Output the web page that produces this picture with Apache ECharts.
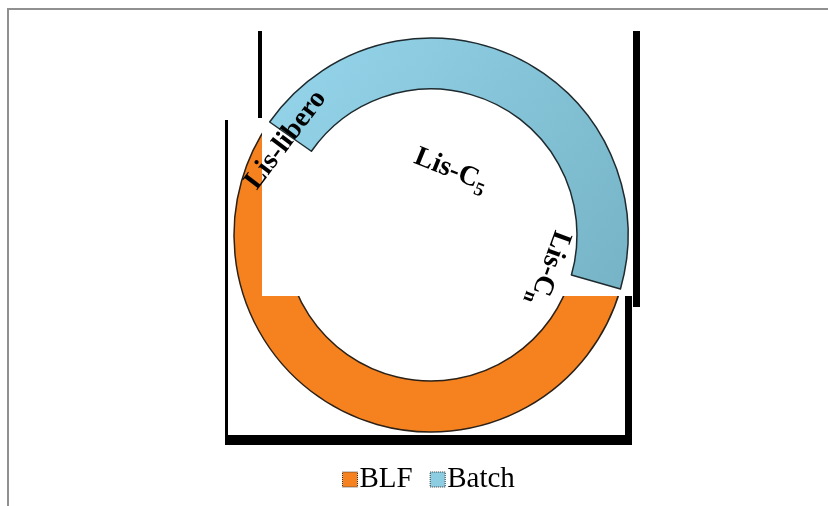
<!DOCTYPE html>
<html>
<head>
<meta charset="utf-8">
<script src="https://cdn.jsdelivr.net/npm/echarts@6/dist/echarts.min.js"></script>
<style>
  html, body { margin: 0; padding: 0; background: #fff; }
  #main { width: 828px; height: 506px; }
</style>
</head>
<body>
<div id="main"></div>
<script>
// categories and values (share of the ring)
var names = ['Batch', 'BLF'];
var values = [44.7, 55.3];
var colors = ['#8CCDE2', '#F5821F'];
var legendNames = ['BLF', 'Batch'];
// ring annotations
var labelTexts = ['{a|Lis-libero}', '{a|Lis-C}{s|5}', '{a|Lis-C}{s|n}'];

var serif = '"Liberation Serif", "Times New Roman", serif';
var myChart = echarts.init(document.getElementById('main'));

var blueGrad = new echarts.graphic.LinearGradient(0, 0, 1, 1, [
  { offset: 0, color: '#96D6EC' },
  { offset: 1, color: '#76B3C6' }
]);

var baseData = names.map(function (n, i) {
  return { name: n, value: values[i], itemStyle: { color: colors[i] } };
});
var topData = names.map(function (n, i) {
  if (n === 'Batch') {
    return { name: n, value: values[i], itemStyle: { color: blueGrad } };
  }
  return { name: n, value: values[i], itemStyle: { color: 'rgba(0,0,0,0)', borderWidth: 0 } };
});

function txt(t, x, y, deg) {
  return {
    type: 'text', x: x, y: y, z: 20, rotation: deg * Math.PI / 180,
    style: {
      text: t, align: 'center', verticalAlign: 'middle',
      rich: {
        a: { fontFamily: serif, fontWeight: 'bold', fontSize: 28, fill: '#000' },
        s: { fontFamily: serif, fontWeight: 'bold', fontSize: 19, fill: '#000', padding: [17, 0, 0, 0] }
      }
    }
  };
}

var options = {
  animation: false,
  legend: {
    data: legendNames,
    left: 337,
    top: 460,
    icon: 'rect',
    itemWidth: 15,
    itemHeight: 15,
    itemGap: 17,
    itemStyle: { borderColor: '#333', borderWidth: 1, borderType: 'dotted' },
    textStyle: { fontFamily: serif, fontSize: 29, color: '#000', padding: [2, 0, 0, -3] }
  },
  graphic: [
    // outer frame
    { type: 'rect', z: 0, shape: { x: 8, y: 9, width: 830, height: 510 },
      style: { fill: 'none', stroke: '#909090', lineWidth: 2 } },
    // white panel between the two rings
    { type: 'rect', z: 3, shape: { x: 262, y: 31, width: 371, height: 265 },
      style: { fill: '#fff' } },
    // black shadow lines
    { type: 'rect', z: 4, shape: { x: 258, y: 31, width: 4, height: 87 }, style: { fill: '#000' } },
    { type: 'rect', z: 4, shape: { x: 633, y: 31, width: 7, height: 276 }, style: { fill: '#000' } },
    { type: 'rect', z: 4, shape: { x: 225, y: 120, width: 3, height: 325 }, style: { fill: '#000' } },
    { type: 'rect', z: 4, shape: { x: 225, y: 435, width: 407, height: 10 }, style: { fill: '#000' } },
    { type: 'rect', z: 4, shape: { x: 625, y: 296, width: 7, height: 149 }, style: { fill: '#000' } },
    txt(labelTexts[0], 286, 140, 53),
    txt(labelTexts[1], 451, 170, -22),
    txt(labelTexts[2], 549, 268, -110)
  ],
  series: [
    {
      name: 'ring',
      type: 'pie',
      z: 1,
      silent: true,
      center: [431, 235],
      radius: [146, 197],
      startAngle: 145,
      label: { show: false },
      labelLine: { show: false },
      itemStyle: { borderColor: '#2b2118', borderWidth: 1.5 },
      data: baseData
    },
    {
      name: 'ringTop',
      type: 'pie',
      z: 5,
      silent: true,
      center: [431, 235],
      radius: [146, 197],
      startAngle: 145,
      label: { show: false },
      labelLine: { show: false },
      itemStyle: { borderColor: '#1e2a2e', borderWidth: 1.5 },
      data: topData
    }
  ]
};
myChart.setOption(options);
</script>
</body>
</html>
